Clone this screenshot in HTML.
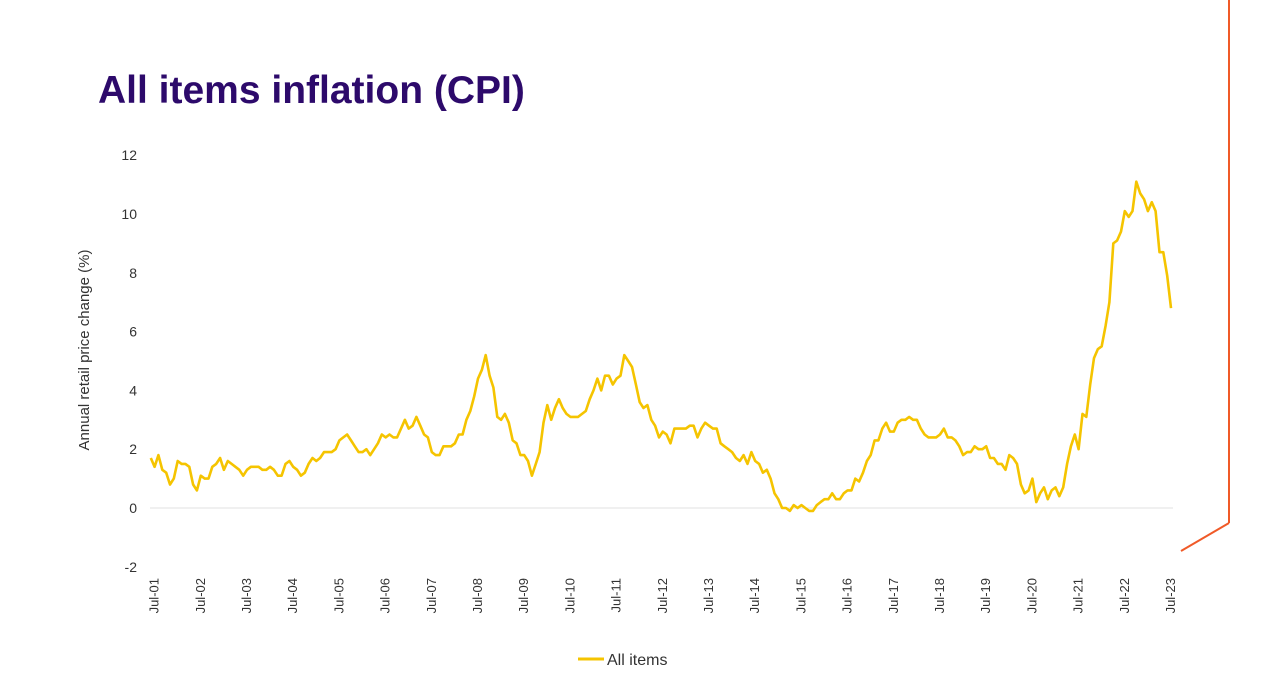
<!DOCTYPE html>
<html><head><meta charset="utf-8"><style>
body{margin:0;background:#fff;width:1280px;height:682px;overflow:hidden;font-family:"Liberation Sans",sans-serif}
svg{position:absolute;left:0;top:0}
</style></head><body>
<svg id="s" width="1280" height="682" xmlns="http://www.w3.org/2000/svg">
<text x="98" y="103" font-family="Liberation Sans, sans-serif" font-weight="bold" font-size="39" fill="#2d0a6b">All items inflation (CPI)</text>
<line x1="1229" y1="0" x2="1229" y2="523" stroke="#f05a28" stroke-width="2"/>
<line x1="1229" y1="523" x2="1181" y2="551" stroke="#f05a28" stroke-width="2"/>
<line x1="150" y1="508" x2="1173" y2="508" stroke="#e0e0e0" stroke-width="1"/>
<text transform="translate(89,350) rotate(-90)" text-anchor="middle" font-size="15" fill="#333">Annual retail price change (%)</text>
<g id="yt" font-size="14" fill="#333" text-anchor="end"></g>
<g id="xt" font-size="13" fill="#333"></g>
<path id="ln" fill="none" stroke="#f5c400" stroke-width="2.6" stroke-linejoin="round"/>
<line x1="578" y1="659" x2="604" y2="659" stroke="#f5c400" stroke-width="3"/>
<text x="607" y="665" font-size="16" fill="#333">All items</text>
</svg>
<script>
var d=[1.7,1.4,1.8,1.3,1.2,0.8,1.0,
1.6,1.5,1.5,1.4,0.8,0.6,1.1,1.0,1.0,1.4,1.5,1.7,
1.3,1.6,1.5,1.4,1.3,1.1,1.3,1.4,1.4,1.4,1.3,1.3,
1.4,1.3,1.1,1.1,1.5,1.6,1.4,1.3,1.1,1.2,1.5,1.7,
1.6,1.7,1.9,1.9,1.9,2.0,2.3,2.4,2.5,2.3,2.1,1.9,
1.9,2.0,1.8,2.0,2.2,2.5,2.4,2.5,2.4,2.4,2.7,3.0,
2.7,2.8,3.1,2.8,2.5,2.4,1.9,1.8,1.8,2.1,2.1,2.1,
2.2,2.5,2.5,3.0,3.3,3.8,4.4,4.7,5.2,4.5,4.1,3.1,
3.0,3.2,2.9,2.3,2.2,1.8,1.8,1.6,1.1,1.5,1.9,2.9,
3.5,3.0,3.4,3.7,3.4,3.2,3.1,3.1,3.1,3.2,3.3,3.7,
4.0,4.4,4.0,4.5,4.5,4.2,4.4,4.5,5.2,5.0,4.8,4.2,
3.6,3.4,3.5,3.0,2.8,2.4,2.6,2.5,2.2,2.7,2.7,2.7,
2.7,2.8,2.8,2.4,2.7,2.9,2.8,2.7,2.7,2.2,2.1,2.0,
1.9,1.7,1.6,1.8,1.5,1.9,1.6,1.5,1.2,1.3,1.0,0.5,
0.3,0.0,0.0,-0.1,0.1,0.0,0.1,0.0,-0.1,-0.1,0.1,0.2,
0.3,0.3,0.5,0.3,0.3,0.5,0.6,0.6,1.0,0.9,1.2,1.6,
1.8,2.3,2.3,2.7,2.9,2.6,2.6,2.9,3.0,3.0,3.1,3.0,
3.0,2.7,2.5,2.4,2.4,2.4,2.5,2.7,2.4,2.4,2.3,2.1,
1.8,1.9,1.9,2.1,2.0,2.0,2.1,1.7,1.7,1.5,1.5,1.3,
1.8,1.7,1.5,0.8,0.5,0.6,1.0,0.2,0.5,0.7,0.3,0.6,
0.7,0.4,0.7,1.5,2.1,2.5,2.0,3.2,3.1,4.2,5.1,5.4,
5.5,6.2,7.0,9.0,9.1,9.4,10.1,9.9,10.1,11.1,10.7,10.5,
10.1,10.4,10.1,8.7,8.7,7.9,6.8];
var n=d.length,x0=1171-(n-1)*3.85;
function Y(v){return 508-v*29.4}
var p="";for(var i=0;i<n;i++){p+=(i?"L":"M")+(x0+i*3.85).toFixed(1)+","+Y(d[i]).toFixed(1)}
document.getElementById("ln").setAttribute("d",p);
var ns="http://www.w3.org/2000/svg",yt=document.getElementById("yt");
for(var v=-2;v<=12;v+=2){var t=document.createElementNS(ns,"text");t.setAttribute("x",137);t.setAttribute("y",Y(v)+5);t.textContent=v;yt.appendChild(t)}
var xt=document.getElementById("xt");
for(var k=0;k<=22;k++){var xx=x0+(1+12*k)*3.85+4;var t=document.createElementNS(ns,"text");t.setAttribute("transform","translate("+xx.toFixed(1)+",578) rotate(-90)");t.setAttribute("text-anchor","end");t.textContent="Jul-"+(k+1<10?"0":"")+(k+1);xt.appendChild(t)}
</script>
</body></html>
